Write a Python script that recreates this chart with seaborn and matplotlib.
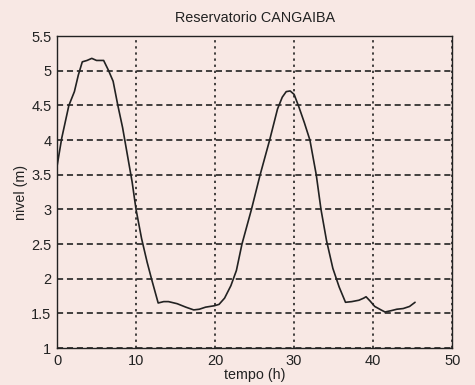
import matplotlib
matplotlib.use("Agg")
import matplotlib.pyplot as plt
import seaborn as sns
import pandas as pd
from matplotlib.ticker import FuncFormatter

# Reservoir level over time
tempo = [0, 0.6, 1.5, 2.2, 2.7, 3.2, 3.8, 4.4, 5.0, 5.9,
         6.5, 7.1, 7.7, 8.3, 8.9, 9.5, 10.0, 10.7, 11.4, 12.0, 12.8,
         13.5, 14.1, 15.2, 16.3, 17.3, 18.0, 18.8, 19.9, 20.5, 21.2,
         22.0, 22.7, 23.4, 24.6, 25.7, 26.9, 27.9, 28.5, 29.0, 29.5,
         30.0, 30.6, 31.3, 32.0, 32.8, 33.4, 34.1, 34.9, 35.7, 36.5,
         37.3, 38.2, 38.8, 39.1, 39.6, 40.2, 41.0, 41.5, 42.3, 43.0,
         43.8, 44.6, 45.3]
nivel = [3.62, 4.03, 4.50, 4.70, 4.94, 5.13, 5.15, 5.18, 5.15, 5.15,
         5.01, 4.85, 4.50, 4.18, 3.79, 3.40, 3.00, 2.58, 2.24, 1.98, 1.65,
         1.67, 1.67, 1.64, 1.59, 1.55, 1.56, 1.59, 1.61, 1.63, 1.72,
         1.90, 2.12, 2.50, 3.00, 3.50, 4.00, 4.45, 4.62, 4.70, 4.71,
         4.66, 4.48, 4.25, 4.00, 3.50, 3.00, 2.55, 2.15, 1.88, 1.66,
         1.67, 1.69, 1.72, 1.74, 1.68, 1.60, 1.55, 1.52, 1.54, 1.56,
         1.57, 1.60, 1.66]

x_ticks = [0, 10, 20, 30, 40, 50]
y_ticks = [1, 1.5, 2, 2.5, 3, 3.5, 4, 4.5, 5, 5.5]

titulo = "Reservatorio CANGAIBA"
rotulo_x = "tempo (h)"
rotulo_y = "nivel (m)"

df = pd.DataFrame({"tempo": tempo, "nivel": nivel})

sns.set_style("white")
plt.rcParams["font.family"] = ["Liberation Sans", "DejaVu Sans"]

paper = "#f8e8e4"
fig = plt.figure(figsize=(4.75, 3.85), dpi=100, facecolor=paper)
ax = fig.add_axes([0.12, 0.096, 0.832, 0.81])
ax.set_facecolor(paper)

sns.lineplot(data=df, x="tempo", y="nivel", ax=ax, color="#222222",
             linewidth=1.2, estimator=None, sort=False)

ax.set_xlim(0, 50)
ax.set_ylim(1, 5.5)
ax.set_xticks(x_ticks)
ax.set_yticks(y_ticks)
ax.yaxis.set_major_formatter(FuncFormatter(lambda v, p: f"{v:g}"))

# dotted verticals, dashed horizontals
ax.xaxis.grid(True, color="#111111", linestyle=(0, (1.5, 2.5)), linewidth=1.1)
ax.yaxis.grid(True, color="#111111", linestyle=(0, (4, 2.5)), linewidth=1.1)

for s in ax.spines.values():
    s.set_visible(True)
    s.set_color("#222222")
    s.set_linewidth(1.0)

ax.tick_params(axis="both", direction="in", length=3, width=0.8,
               labelsize=10.5, colors="#222222", pad=4)

ax.set_title(titulo, fontsize=10.4, color="#222222", pad=10)
ax.set_xlabel(rotulo_x, fontsize=10.3, color="#222222", labelpad=0)
ax.set_ylabel(rotulo_y, fontsize=10.3, color="#222222", labelpad=2)

fig.savefig("out.png", dpi=100, facecolor=paper)
